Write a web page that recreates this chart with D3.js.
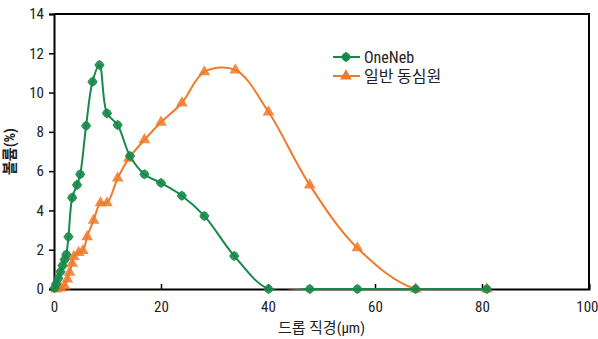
<!DOCTYPE html>
<html>
<head>
<meta charset="utf-8">
<script src="https://cdnjs.cloudflare.com/ajax/libs/d3/7.8.5/d3.min.js"></script>
<style>
  body { margin: 0; background: #fff; }
  text { font-family: "Liberation Sans Narrow", "Roboto Condensed", "Noto Sans CJK KR", sans-serif; }
</style>
</head>
<body>
<div id="chart"></div>
<script>
// series names and values
var seriesNames = ["OneNeb", "일반 동심원"];

var oneNebX = [0.1, 0.4, 0.8, 1.2, 1.6, 2.0, 2.3, 2.7, 3.4, 4.3, 4.9, 6.0, 7.2, 8.5, 9.9, 11.9, 14.2, 16.9, 20.0, 23.9, 28.1, 33.7, 40.1, 47.8, 56.7, 67.6, 80.9];
var oneNebY = [0.05, 0.25, 0.55, 0.88, 1.2, 1.5, 1.75, 2.66, 4.65, 5.3, 5.84, 8.31, 10.55, 11.4, 8.95, 8.35, 6.77, 5.84, 5.4, 4.75, 3.72, 1.68, 0, 0, 0, 0, 0];

var normalX = [0.4, 1.3, 2.0, 2.5, 2.9, 3.4, 3.7, 4.6, 5.4, 6.2, 7.4, 8.7, 9.9, 11.9, 14.0, 16.9, 20.0, 23.9, 28.1, 33.9, 40.1, 47.8, 56.7, 67.6, 80.9];
var normalY = [0, 0.05, 0.15, 0.5, 0.85, 1.3, 1.65, 1.85, 1.95, 2.66, 3.5, 4.38, 4.38, 5.64, 6.65, 7.59, 8.49, 9.47, 11.05, 11.15, 9.01, 5.29, 2.09, 0, 0];

var xTicks = [0, 20, 40, 60, 80, 100];
var yTicks = [0, 2, 4, 6, 8, 10, 12, 14];

var xLabel = "드롭 직경(μm)",
    yLabel = "볼륨(%)";

//Canvas dimensions and margins
var width = 598,
    height = 339;

var margin = {
    top: 14,
    bottom: 50,
    left: 54,
    right: 9
}

var green = "#17894a",
    orange = "#f07a2b";

var svg = d3.select("#chart")
    .append("svg")
    .attr("width", width)
    .attr("height", height);

var innerW = width - margin.left - margin.right,
    innerH = height - margin.top - margin.bottom;

// soft edge on the markers
var defs = svg.append("defs");
defs.append("filter")
    .attr("id", "soft")
    .attr("x", "-50%").attr("y", "-50%")
    .attr("width", "200%").attr("height", "200%")
    .append("feGaussianBlur")
    .attr("stdDeviation", 0.7);

// keep the smoothed lines from dipping under the x axis
defs.append("clipPath")
    .attr("id", "plot")
    .append("rect")
    .attr("x", 0)
    .attr("y", -5)
    .attr("width", innerW)
    .attr("height", innerH + 6);

var g = svg.append("g")
    .attr("transform", "translate(" + margin.left + "," + margin.top + ")");

var x = d3.scaleLinear().domain([0, 100]).range([0, innerW]);
var y = d3.scaleLinear().domain([0, 14]).range([innerH, 0]);

// frame top and right
g.append("path")
    .attr("d", "M0,0H" + innerW + "V" + innerH)
    .attr("fill", "none")
    .attr("stroke", "#000")
    .attr("stroke-width", 2);

// y axis, ticks pointing out
var yAxis = g.append("g")
    .call(d3.axisLeft(y).tickValues(yTicks).tickSize(5).tickPadding(5).tickFormat(d3.format("d")));

// x axis, ticks pointing in
var xAxis = g.append("g")
    .attr("transform", "translate(0," + innerH + ")")
    .call(d3.axisBottom(x).tickValues(xTicks).tickSize(-5).tickPadding(12).tickFormat(d3.format("d")));

[xAxis, yAxis].forEach(function(a) {
    a.select(".domain").attr("stroke", "#000").attr("stroke-width", 2);
    a.selectAll(".tick line").attr("stroke", "#000").attr("stroke-width", 1.5);
    a.selectAll(".tick text")
        .attr("fill", "#222")
        .style("font-size", "15px");
});

// last x label sits against the right edge
xAxis.selectAll(".tick text")
    .filter(function(d) { return d === 100; })
    .attr("text-anchor", "end")
    .attr("dx", 9);

// axis titles
g.append("text")
    .attr("x", innerW / 2)
    .attr("y", innerH + 44)
    .attr("text-anchor", "middle")
    .attr("fill", "#222")
    .style("font-size", "15px")
    .text(xLabel);

g.append("text")
    .attr("transform", "translate(" + (-39) + "," + (innerH / 2) + ") rotate(-90)")
    .attr("text-anchor", "middle")
    .attr("fill", "#222")
    .style("font-size", "15px")
    .style("font-weight", "bold")
    .text(yLabel);

var line = d3.line()
    .x(function(d) { return x(d[0]); })
    .y(function(d) { return y(d[1]); })
    .curve(d3.curveCatmullRom.alpha(0.5));

var oneNeb = oneNebX.map(function(v, i) { return [v, oneNebY[i]]; });
var normal = normalX.map(function(v, i) { return [v, normalY[i]]; });

var greenMarker = d3.symbol().type(d3.symbolSquare).size(56);
var orangeMarker = d3.symbol().type(d3.symbolTriangle).size(60);

function drawGreenMarker(sel) {
    sel.append("path")
        .attr("transform", "rotate(45)")
        .attr("d", greenMarker)
        .attr("fill", green);
    sel.append("circle")
        .attr("r", 4.3)
        .attr("fill", green);
}

// orange series first, green on top
g.append("path")
    .datum(normal)
    .attr("d", line)
    .attr("clip-path", "url(#plot)")
    .attr("fill", "none")
    .attr("stroke", orange)
    .attr("stroke-width", 2);

g.selectAll(".mk-orange")
    .data(normal)
    .enter().append("path")
    .attr("class", "mk-orange")
    .attr("transform", function(d) { return "translate(" + x(d[0]) + "," + y(d[1]) + ")"; })
    .attr("d", orangeMarker)
    .attr("fill", orange)
    .attr("opacity", 0.85)
    .attr("filter", "url(#soft)");

g.append("path")
    .datum(oneNeb)
    .attr("d", line)
    .attr("clip-path", "url(#plot)")
    .attr("fill", "none")
    .attr("stroke", green)
    .attr("stroke-width", 2);

g.selectAll(".mk-green")
    .data(oneNeb)
    .enter().append("g")
    .attr("class", "mk-green")
    .attr("transform", function(d) { return "translate(" + x(d[0]) + "," + y(d[1]) + ")"; })
    .attr("filter", "url(#soft)")
    .attr("opacity", 0.9)
    .call(drawGreenMarker);

// legend
var legend = g.selectAll(".legend")
    .data(seriesNames)
    .enter().append("g")
    .attr("class", "legend")
    .attr("transform", function(d, i) {
        return "translate(" + 279 + "," + (43 + i * 19) + ")";
    });

legend.append("line")
    .attr("x1", 0)
    .attr("x2", 27)
    .attr("stroke", function(d, i) { return i === 0 ? green : orange; })
    .attr("stroke-width", 2);

legend.each(function(d, i) {
    var el = d3.select(this).append("g")
        .attr("transform", "translate(13,0)")
        .attr("filter", "url(#soft)");
    if (i === 0) {
        el.call(drawGreenMarker);
    } else {
        el.append("path").attr("d", orangeMarker).attr("fill", orange);
    }
});

legend.append("text")
    .attr("x", 31)
    .attr("y", 6)
    .attr("fill", "#222")
    .style("font-size", "16px")
    .text(function(d) { return d; });
</script>
</body>
</html>
